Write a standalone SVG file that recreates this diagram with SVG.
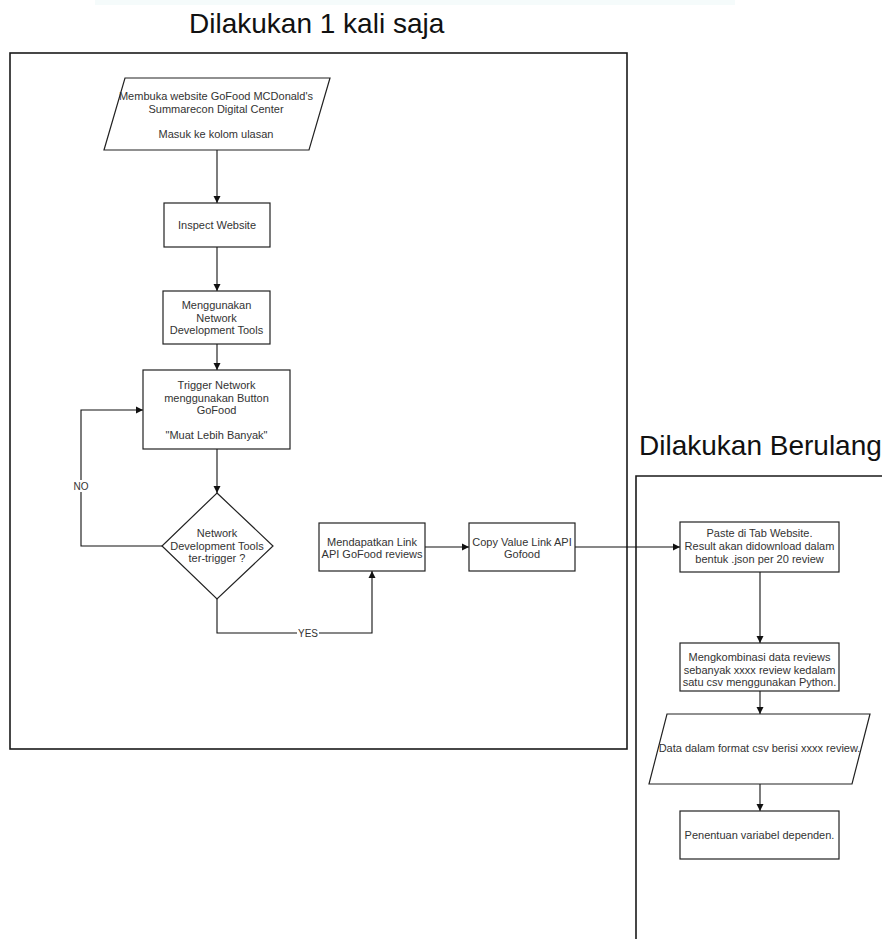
<svg xmlns="http://www.w3.org/2000/svg" width="882" height="939" viewBox="0 0 882 939">
<defs>
<style>
.t{font-family:"Liberation Sans",Arial,Helvetica,sans-serif;font-size:11px;fill:#333;text-anchor:middle}
.title{font-family:"Liberation Sans",Arial,Helvetica,sans-serif;font-size:28px;fill:#111}
.n{fill:#fff;stroke:#222;stroke-width:1.2}
.frame{fill:none;stroke:#1a1a1a;stroke-width:1.6}
.c{fill:none;stroke:#111;stroke-width:1.1}
.lbl{font-family:"Liberation Sans",Arial,Helvetica,sans-serif;font-size:10px;fill:#333;text-anchor:middle}
</style>
<marker id="ah" markerWidth="8" markerHeight="8" refX="7" refY="4" orient="auto" markerUnits="userSpaceOnUse">
<path d="M0,0.5 L7,4 L0,7.5 z" fill="#111"/>
</marker>
</defs>
<rect width="882" height="939" fill="#fff"/>
<rect x="95" y="0" width="640" height="5" fill="#f5fbfb"/>

<g id="frame-once">
<rect class="frame" x="10" y="53" width="617" height="696"/>
<text class="title" x="189" y="33">Dilakukan 1 kali saja</text>
</g>
<g id="frame-repeat">
<polyline class="frame" points="882,476 636,476 636,939"/>
<text class="title" x="639" y="455">Dilakukan Berulang</text>
</g>

<g id="connectors">
<line class="c" x1="217" y1="150" x2="217" y2="203" marker-end="url(#ah)"/>
<line class="c" x1="217" y1="247" x2="217" y2="291" marker-end="url(#ah)"/>
<line class="c" x1="217" y1="344" x2="217" y2="370" marker-end="url(#ah)"/>
<line class="c" x1="217" y1="449" x2="217" y2="493" marker-end="url(#ah)"/>
<polyline class="c" points="162,546 81,546 81,410 143,410" marker-end="url(#ah)"/>
<rect x="71" y="480" width="20" height="12" fill="#fff"/>
<text class="lbl" x="81" y="490">NO</text>
<polyline class="c" points="217,599 217,633 372,633 372,571" marker-end="url(#ah)"/>
<rect x="297" y="627" width="22" height="12" fill="#fff"/>
<text class="lbl" x="308" y="637">YES</text>
<line class="c" x1="425" y1="547" x2="469" y2="547" marker-end="url(#ah)"/>
<line class="c" x1="575" y1="547" x2="680" y2="547" marker-end="url(#ah)"/>
<line class="c" x1="760" y1="572" x2="760" y2="643" marker-end="url(#ah)"/>
<line class="c" x1="760" y1="691" x2="760" y2="714" marker-end="url(#ah)"/>
<line class="c" x1="760" y1="784" x2="760" y2="811" marker-end="url(#ah)"/>
</g>

<g id="n-open">
<polygon class="n" points="125,78 330,78 309,150 104,150"/>
<text class="t" x="216" y="100">Membuka website GoFood MCDonald's</text>
<text class="t" x="216" y="112.5">Summarecon Digital Center</text>
<text class="t" x="216" y="137.5">Masuk ke kolom ulasan</text>
</g>
<g id="n-inspect">
<rect class="n" x="164" y="203" width="106" height="44"/>
<text class="t" x="217" y="229">Inspect Website</text>
</g>
<g id="n-devtools">
<rect class="n" x="163" y="291" width="107" height="53"/>
<text class="t" x="216.5" y="309">Menggunakan</text>
<text class="t" x="216.5" y="321.5">Network</text>
<text class="t" x="216.5" y="334">Development Tools</text>
</g>
<g id="n-trigger">
<rect class="n" x="143" y="370" width="147" height="79"/>
<text class="t" x="216.5" y="389">Trigger Network</text>
<text class="t" x="216.5" y="401.5">menggunakan Button</text>
<text class="t" x="216.5" y="414">GoFood</text>
<text class="t" x="216.5" y="439">"Muat Lebih Banyak"</text>
</g>
<g id="n-decision">
<polygon class="n" points="217,493 273,546 217,599 162,546"/>
<text class="t" x="217" y="537">Network</text>
<text class="t" x="217" y="549.5">Development Tools</text>
<text class="t" x="217" y="562">ter-trigger ?</text>
</g>
<g id="n-getlink">
<rect class="n" x="319" y="523" width="106" height="48"/>
<text class="t" x="372" y="545.5">Mendapatkan Link</text>
<text class="t" x="372" y="558">API GoFood reviews</text>
</g>
<g id="n-copy">
<rect class="n" x="469" y="523" width="106" height="48"/>
<text class="t" x="522" y="545.5">Copy Value Link API</text>
<text class="t" x="522" y="558">Gofood</text>
</g>
<g id="n-paste">
<rect class="n" x="680" y="522" width="159" height="50"/>
<text class="t" x="759.5" y="537">Paste di Tab Website.</text>
<text class="t" x="759.5" y="550">Result akan didownload dalam</text>
<text class="t" x="759.5" y="563">bentuk .json per 20 review</text>
</g>
<g id="n-combine">
<rect class="n" x="680" y="643" width="159" height="48"/>
<text class="t" x="759.5" y="661">Mengkombinasi data reviews</text>
<text class="t" x="759.5" y="673.5">sebanyak xxxx review kedalam</text>
<text class="t" x="759.5" y="686">satu csv menggunakan Python.</text>
</g>
<g id="n-data">
<polygon class="n" points="667,714 870,714 852,784 649,784"/>
<text class="t" x="759.5" y="752">Data dalam format csv berisi xxxx review.</text>
</g>
<g id="n-dependent">
<rect class="n" x="680" y="811" width="159" height="48"/>
<text class="t" x="759.5" y="839">Penentuan variabel dependen.</text>
</g>
</svg>
